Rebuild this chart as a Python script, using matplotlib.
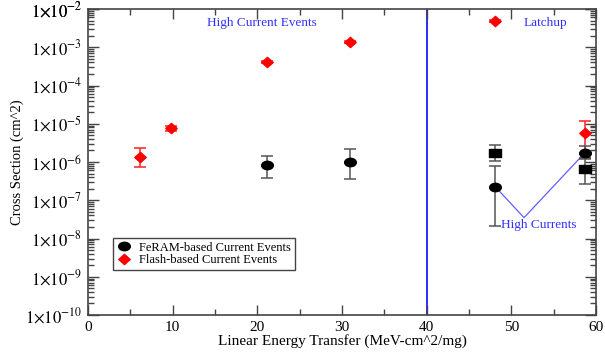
import numpy as np
import matplotlib
matplotlib.use('Agg')
import matplotlib.pyplot as plt
from matplotlib.path import Path
from matplotlib.transforms import Affine2D
from matplotlib.ticker import FuncFormatter, MultipleLocator, FixedLocator

# data
feram_x = [21.2, 30.9, 48.1, 58.7]
feram_y = [8.4e-7, 9.8e-7, 2.26e-7, 1.76e-6]
feram_lo = [3.75e-7, 3.5e-7, 2.16e-8, 1.27e-6]
feram_hi = [1.46e-6, 2.15e-6, 7.9e-7, 2.7e-6]

square_x = [48.1, 58.7]
square_y = [1.76e-6, 6.5e-7]
square_lo = [1.06e-6, 2.66e-7]
square_hi = [2.78e-6, 1.2e-6]

flash_x = [6.2, 9.8, 21.2, 30.9, 48.1, 58.7]
flash_y = [1.35e-6, 7.7e-6, 4.1e-4, 1.4e-3, 4.9e-3, 5.8e-6]
flash_lo = [7.4e-7, 6.5e-6, 3.8e-4, 1.32e-3, 4.6e-3, 1.29e-6]
flash_hi = [2.3e-6, 8.7e-6, 4.4e-4, 1.48e-3, 5.2e-3, 1.18e-5]

# "High Currents" pointer lines
hc_x = [48.1, 51.5, 58.7]
hc_y = [2.26e-7, 3.5e-8, 1.76e-6]

latchup_boundary = 40
decades = list(range(-10, -1))

plt.rcParams['font.family'] = 'Liberation Serif'
plt.rcParams['mathtext.fontset'] = 'stix'

ellipse = Path.unit_circle().transformed(Affine2D().scale(1, 0.72))
diamond = Path([(0, 1), (1, 0), (0, -1), (-1, 0), (0, 1)], closed=True).transformed(Affine2D().scale(1, 0.9))
square = Path([(-1, -1), (1, -1), (1, 1), (-1, 1), (-1, -1)], closed=True).transformed(Affine2D().scale(1, 0.78))

fig = plt.figure(figsize=(6.05, 3.54), dpi=100)
ax = fig.add_axes([88 / 605, 39 / 354, 508 / 605, 306 / 354])

def yerr(y, lo, hi):
    y = np.array(y)
    return [y - np.array(lo), np.array(hi) - y]

ax.axvline(latchup_boundary, color='#1a1aff', lw=1.3, zorder=1)

ax.errorbar(flash_x, flash_y, yerr=yerr(flash_y, flash_lo, flash_hi), fmt='none',
            ecolor='#ff2020', elinewidth=1.1, capsize=4, capthick=1.1, zorder=2)
ax.plot(flash_x, flash_y, ls='none', marker=diamond, ms=8.2, color='red', mec='red',
        zorder=3, label='Flash-based Current Events')

ax.errorbar(square_x, square_y, yerr=yerr(square_y, square_lo, square_hi), fmt='none',
            ecolor='#555555', elinewidth=1.1, capsize=4, capthick=1.1, zorder=4)
ax.plot(square_x, square_y, ls='none', marker=square, ms=8, color='black', zorder=5)

ax.errorbar(feram_x, feram_y, yerr=yerr(feram_y, feram_lo, feram_hi), fmt='none',
            ecolor='#555555', elinewidth=1.1, capsize=4, capthick=1.1, zorder=4)
ax.plot(feram_x, feram_y, ls='none', marker=ellipse, ms=8.4, color='black', zorder=5,
        label='FeRAM-based Current Events')

ax.plot(hc_x, hc_y, color='#6060ff', lw=0.9, zorder=3)

ax.text(20.5, 4.3e-3, 'High Current Events', color='#3030ff', fontsize=9.5,
        ha='center', va='center')
ax.text(54.0, 4.3e-3, 'Latchup', color='#3030ff', fontsize=9.5, ha='center', va='center')
ax.text(53.2, 2.2e-8, 'High Currents', color='#3030ff', fontsize=9.5, ha='center', va='center')

ax.set_xlim(0, 60)
ax.set_yscale('log')
ax.set_ylim(1e-10, 1e-2)
ax.xaxis.set_major_locator(MultipleLocator(10))
ax.xaxis.set_minor_locator(MultipleLocator(5))
ax.yaxis.set_major_locator(FixedLocator([10.0 ** d for d in decades + [-2]]))
ax.yaxis.set_minor_locator(FixedLocator([m * 10.0 ** d for d in decades for m in range(2, 10)]))
ax.yaxis.set_major_formatter(FuncFormatter(lambda v, p: r'$1{\times}10^{%d}$' % round(np.log10(v))))
ax.yaxis.set_minor_formatter(FuncFormatter(lambda v, p: ''))

ax.tick_params(axis='both', which='both', direction='in', top=True, right=True,
               color='#444444', width=1)
ax.tick_params(axis='x', which='major', length=7, labelsize=11, pad=4)
ax.tick_params(axis='x', which='minor', length=4)
ax.tick_params(axis='y', which='major', length=8, labelsize=12, pad=4)
ax.tick_params(axis='y', which='minor', length=4)
for s in ax.spines.values():
    s.set_color('#444444')
    s.set_linewidth(1.2)

ax.set_xlabel('Linear Energy Transfer (MeV-cm^2/mg)', fontsize=11, labelpad=0)
ax.set_ylabel('Cross Section (cm^2)', fontsize=10.5, labelpad=1)

handles, labels = ax.get_legend_handles_labels()
leg = ax.legend(handles[::-1], labels[::-1], loc='upper left', bbox_to_anchor=(0.0486, 0.2516),
                borderaxespad=0, fontsize=9, frameon=True, fancybox=False, framealpha=1,
                edgecolor='#444444', labelspacing=0.05, borderpad=0.3, handletextpad=0.6,
                handlelength=1.2)
leg.get_frame().set_linewidth(1)

fig.savefig('out.png', dpi=100)
